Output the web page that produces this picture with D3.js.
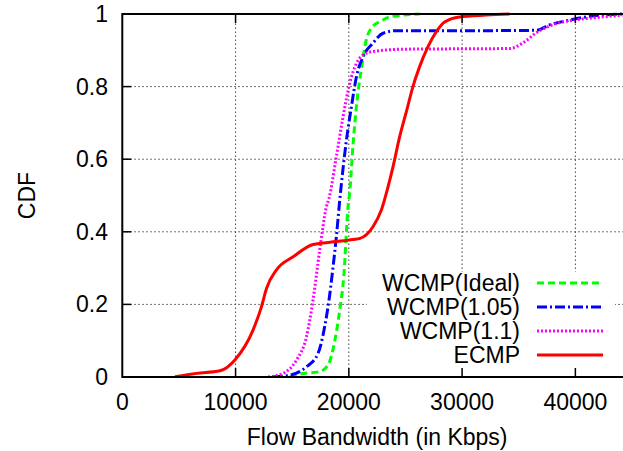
<!DOCTYPE html>
<html lang="en">
<head>
    <meta charset="UTF-8">
    <title>Flow Bandwidth CDF</title>
    <style>
        body {
            margin: 0;
            padding: 0;
            background: #fff;
        }

        svg {
            display: block;
            font-family: "Liberation Sans", Arial, sans-serif;
        }

        .grid line {
            stroke: #444;
            stroke-width: 1;
            stroke-dasharray: 1.5, 2.5;
        }

        .tick-label {
            font-size: 23px;
            fill: #000;
        }

        .series {
            fill: none;
            stroke-width: 3;
        }
    </style>
</head>
<body>
<svg id="chart" width="623" height="451"></svg>

<script src="https://d3js.org/d3.v7.min.js"></script>
<script>
    // tick values
    var xTicks = [0, 10000, 20000, 30000, 40000];
    var yTicks = [0, 0.2, 0.4, 0.6, 0.8, 1];

    // series names
    var seriesNames = ["WCMP(Ideal)", "WCMP(1.05)", "WCMP(1.1)", "ECMP"];

    // WCMP(Ideal)
    var idealX = [14790, 15670, 17430, 18170, 18760, 19200, 19550, 19930, 20080, 20370, 20720, 21110, 21550, 22130, 22870, 23600, 26250];
    var idealY = [0, 0.008, 0.015, 0.033, 0.10, 0.185, 0.276, 0.469, 0.51, 0.64, 0.76, 0.85, 0.93, 0.966, 0.981, 0.992, 1.0];

    // WCMP(1.05)
    var w105X = [13300, 14790, 16260, 17280, 17870, 18250, 18610, 18900, 19200, 19790, 20230, 20670, 21250, 22130, 23020, 24200, 30000, 36540, 37710, 39480, 40950, 44150];
    var w105Y = [0, 0.005, 0.028, 0.065, 0.139, 0.212, 0.304, 0.387, 0.488, 0.653, 0.745, 0.827, 0.882, 0.92, 0.947, 0.954, 0.954, 0.955, 0.97, 0.983, 0.992, 1.0];

    // WCMP(1.1)
    var w11X = [12870, 14200, 15380, 16260, 16840, 17430, 18020, 18250, 18900, 19490, 20080, 20670, 21550, 22430, 24780, 34190, 35360, 36540, 37710, 39770, 41830, 44150];
    var w11Y = [0, 0.01, 0.047, 0.111, 0.212, 0.35, 0.469, 0.492, 0.607, 0.717, 0.809, 0.864, 0.892, 0.898, 0.903, 0.905, 0.92, 0.948, 0.967, 0.983, 0.99, 0.997];

    // ECMP
    var ecmpX = [4650, 6560, 8620, 9940, 11550, 12290, 12730, 13610, 15080, 16840, 18900, 20370, 20990, 22130, 22870, 23460, 23900, 24490, 25080, 25660, 26250, 26990, 27720, 28460, 29780, 32130, 34190];
    var ecmpY = [0.001, 0.01, 0.017, 0.047, 0.13, 0.194, 0.244, 0.295, 0.331, 0.365, 0.373, 0.379, 0.382, 0.414, 0.46, 0.524, 0.579, 0.662, 0.731, 0.8, 0.855, 0.91, 0.951, 0.978, 0.992, 0.997, 1.0];

    var plotLeft = 122.3, plotRight = 632, plotTop = 14, plotBottom = 377;

    var svg = d3.select("#chart");

    var x = d3.scaleLinear().domain([0, 45000]).range([plotLeft, plotRight]);
    var y = d3.scaleLinear().domain([0, 1]).range([plotBottom, plotTop]);

    // grid
    var grid = svg.append("g").attr("class", "grid");
    grid.selectAll(".vgrid")
        .data(xTicks.slice(1))
        .enter().append("line")
        .attr("x1", d => x(d)).attr("x2", d => x(d))
        .attr("y1", plotBottom).attr("y2", plotTop);
    grid.selectAll(".hgrid")
        .data(yTicks.slice(1, -1))
        .enter().append("line")
        .attr("x1", plotLeft).attr("x2", plotRight)
        .attr("y1", d => y(d)).attr("y2", d => y(d));

    // key box hides the grid behind it
    svg.append("rect")
        .attr("x", 367).attr("y", 272)
        .attr("width", 248).attr("height", 103)
        .attr("fill", "#fff");

    var series = [
        { name: seriesNames[0], xs: idealX, ys: idealY, color: "#00ff00", dash: "7,4" },
        { name: seriesNames[1], xs: w105X, ys: w105Y, color: "#0000ff", dash: "10,3,2,3" },
        { name: seriesNames[2], xs: w11X, ys: w11Y, color: "#ff00ff", dash: "2,2" },
        { name: seriesNames[3], xs: ecmpX, ys: ecmpY, color: "#ff0000", dash: null }
    ];

    svg.append("clipPath").attr("id", "plot-clip")
        .append("rect")
        .attr("x", plotLeft).attr("y", plotTop - 2)
        .attr("width", plotRight - plotLeft).attr("height", plotBottom - plotTop + 2);

    var line = d3.line()
        .x(d => x(d[0]))
        .y(d => y(d[1]))
        .curve(d3.curveMonotoneX);

    svg.append("g")
        .attr("clip-path", "url(#plot-clip)")
        .selectAll(".series")
        .data(series)
        .enter().append("path")
        .attr("class", "series")
        .attr("stroke", d => d.color)
        .attr("stroke-dasharray", d => d.dash)
        .attr("d", d => line(d.xs.map((v, i) => [v, d.ys[i]])));

    // border
    svg.append("rect")
        .attr("x", plotLeft).attr("y", plotTop)
        .attr("width", plotRight - plotLeft).attr("height", plotBottom - plotTop)
        .attr("fill", "none")
        .attr("stroke", "#000")
        .attr("stroke-width", 2);

    // ticks (inward, mirrored)
    var tickLen = 9;
    var ticks = svg.append("g").attr("stroke", "#000").attr("stroke-width", 1.5);
    ticks.selectAll(".xb")
        .data(xTicks.slice(1))
        .enter().append("line")
        .attr("x1", d => x(d)).attr("x2", d => x(d))
        .attr("y1", plotBottom).attr("y2", plotBottom - tickLen);
    ticks.selectAll(".xt")
        .data(xTicks.slice(1))
        .enter().append("line")
        .attr("x1", d => x(d)).attr("x2", d => x(d))
        .attr("y1", plotTop).attr("y2", plotTop + tickLen);
    ticks.selectAll(".yl")
        .data(yTicks.slice(1, -1))
        .enter().append("line")
        .attr("x1", plotLeft).attr("x2", plotLeft + tickLen)
        .attr("y1", d => y(d)).attr("y2", d => y(d));

    // tick labels
    svg.selectAll(".xlab")
        .data(xTicks)
        .enter().append("text")
        .attr("class", "tick-label")
        .attr("x", d => x(d))
        .attr("y", 402)
        .attr("dy", "0.35em")
        .attr("text-anchor", "middle")
        .text(d => d);

    svg.selectAll(".ylab")
        .data(yTicks)
        .enter().append("text")
        .attr("class", "tick-label")
        .attr("x", 108)
        .attr("y", d => y(d))
        .attr("dy", "0.35em")
        .attr("text-anchor", "end")
        .text(d => d);

    // axis titles
    svg.append("text")
        .attr("class", "tick-label")
        .attr("x", (plotLeft + plotRight) / 2)
        .attr("y", 437)
        .attr("dy", "0.35em")
        .attr("text-anchor", "middle")
        .text("Flow Bandwidth (in Kbps)");

    svg.append("text")
        .attr("class", "tick-label")
        .attr("transform", "translate(27," + ((plotTop + plotBottom) / 2) + ") rotate(-90)")
        .attr("dy", "0.35em")
        .attr("text-anchor", "middle")
        .text("CDF");

    // key
    var keyRows = [283, 307, 331, 355];
    var key = svg.selectAll(".key")
        .data(series)
        .enter().append("g")
        .attr("transform", (d, i) => "translate(0," + keyRows[i] + ")");
    key.append("text")
        .attr("class", "tick-label")
        .attr("x", 520)
        .attr("dy", "0.35em")
        .attr("text-anchor", "end")
        .text(d => d.name);
    key.append("line")
        .attr("class", "series")
        .attr("x1", 537).attr("x2", 603)
        .attr("stroke", d => d.color)
        .attr("stroke-dasharray", d => d.dash);
</script>
</body>
</html>
